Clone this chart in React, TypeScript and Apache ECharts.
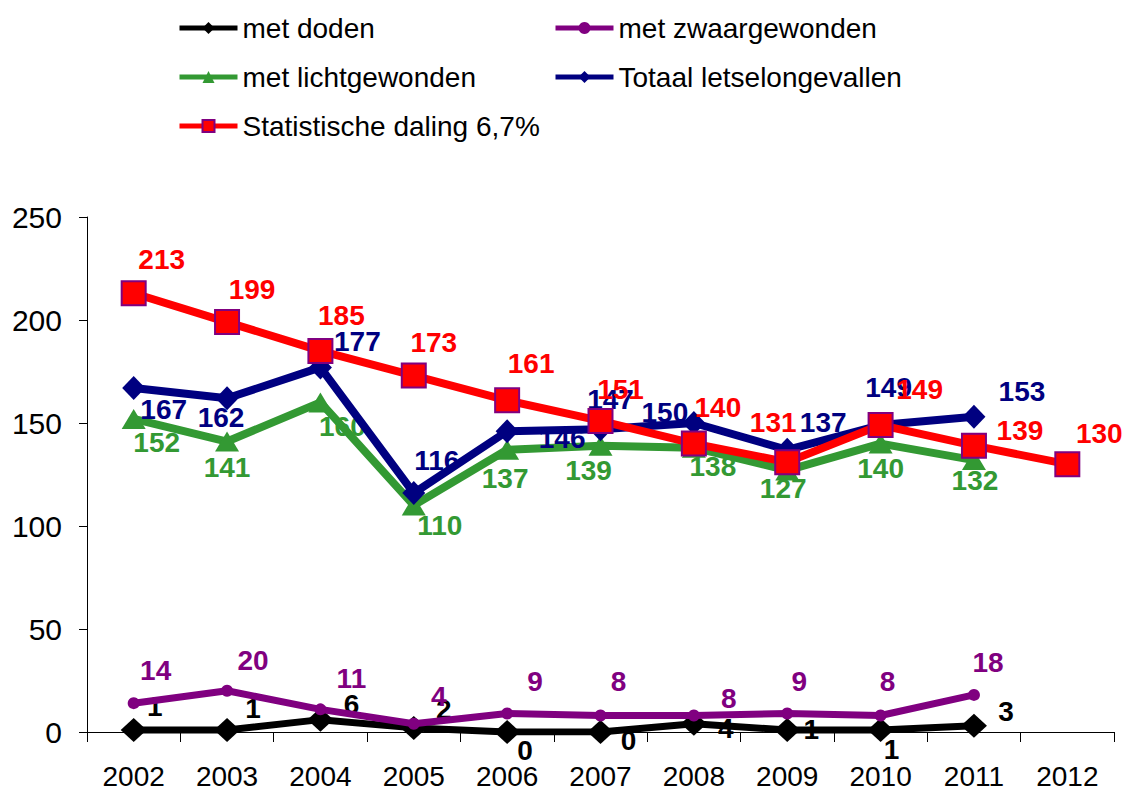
import React, { useEffect, useRef } from "react";
import * as echarts from "echarts";

const years = ["2002", "2003", "2004", "2005", "2006", "2007", "2008", "2009", "2010", "2011", "2012"];
const metDoden = [1, 1, 6, 2, 0, 0, 4, 1, 1, 3];
const metZwaargewonden = [14, 20, 11, 4, 9, 8, 8, 9, 8, 18];
const metLichtgewonden = [152, 141, 160, 110, 137, 139, 138, 127, 140, 132];
const totaal = [167, 162, 177, 116, 146, 147, 150, 137, 149, 153];
const statistischeDaling = [213, 199, 185, 173, 161, 151, 140, 131, 149, 139, 130];

// label placement offsets (px), separate from values
const dodenOffsets = [[21, -23], [26, -21], [31, -15], [30, -18], [18, 18], [28, 8], [32, 5], [24, 0], [11, 20], [32, -14]];
const zwaarOffsets = [[22, -33], [26, -30], [31, -31], [25, -27], [28, -32], [18, -34], [35, -17], [12, -32], [7, -34], [14, -32]];
const lichtOffsets = [[23, 24], [0, 26], [22, 24], [26, 20], [-2, 29], [-12, 25], [19, 19], [-4, 18], [0, 25], [1, 20]];
const totaalOffsets = [[30, 22], [-6, 19], [37, -26], [23, -33], [55, 7], [10, -30], [-29, -11], [36, -27], [8, -38], [48, -25]];
const statOffsets = [[28, -34], [25, -33], [21, -35], [20, -33], [24, -37], [20, -31], [24, -36], [-14, -40], [39, -36], [46, -15], [32, -31]];

const FONT = "'Liberation Sans', Arial, sans-serif";

function withOffsets(values: number[], offsets: number[][]) {
  return values.map((v, i) => ({ value: v, label: { offset: offsets[i] } }));
}

function makeSeries(
  name: string,
  values: number[],
  offsets: number[][],
  color: string,
  lineWidth: number,
  symbol: string,
  symbolSize: number | number[],
  z: number,
  itemStyle?: any
) {
  return {
    name,
    type: "line",
    data: withOffsets(values, offsets),
    z,
    symbol,
    symbolSize,
    showAllSymbol: true,
    lineStyle: { color, width: lineWidth },
    itemStyle: itemStyle || { color },
    label: {
      show: true,
      position: "inside",
      color,
      fontFamily: FONT,
      fontWeight: "bold",
      fontSize: 28,
    },
    emphasis: { disabled: true },
  };
}

export default function App() {
  const ref = useRef<HTMLDivElement>(null);
  useEffect(() => {
    if (!ref.current) return;
    const chart = echarts.init(ref.current, null, { renderer: "svg" });
    const legendText = { fontFamily: FONT, fontSize: 28, color: "#000", lineHeight: 28 };
    chart.setOption({
      animation: false,
      backgroundColor: "#fff",
      legend: [
        {
          orient: "vertical",
          left: 177,
          top: 14,
          padding: 0,
          itemWidth: 58,
          itemHeight: 15,
          itemGap: 21,
          textStyle: legendText,
          lineStyle: { width: 5 },
          data: ["met doden", "met lichtgewonden", "Statistische daling 6,7%"],
        },
        {
          orient: "vertical",
          left: 553,
          top: 14,
          padding: 0,
          itemWidth: 58,
          itemHeight: 15,
          itemGap: 21,
          textStyle: legendText,
          lineStyle: { width: 5 },
          data: ["met zwaargewonden", "Totaal letselongevallen"],
        },
      ],
      grid: { left: 87, right: 10, top: 217, bottom: 57, containLabel: false },
      xAxis: {
        type: "category",
        data: years,
        boundaryGap: true,
        axisLine: { show: true, lineStyle: { color: "#000", width: 1 } },
        axisTick: { show: true, length: 10, interval: 0, lineStyle: { color: "#000" } },
        axisLabel: { fontFamily: FONT, fontSize: 28, color: "#000", margin: 30, interval: 0 },
        splitLine: { show: false },
      },
      yAxis: {
        type: "value",
        min: 0,
        max: 250,
        interval: 50,
        axisLine: { show: true, lineStyle: { color: "#000", width: 1 } },
        axisTick: { show: true, length: 8, lineStyle: { color: "#000" } },
        axisLabel: { fontFamily: FONT, fontSize: 30, color: "#000", margin: 25 },
        splitLine: { show: false },
      },
      series: [
        makeSeries("met doden", metDoden, dodenOffsets, "#000000", 7, "diamond", [26, 24], 2),
        makeSeries("met zwaargewonden", metZwaargewonden, zwaarOffsets, "#800080", 7, "circle", 12, 3),
        makeSeries("met lichtgewonden", metLichtgewonden, lichtOffsets, "#339933", 8, "triangle", [24, 20], 4),
        makeSeries("Totaal letselongevallen", totaal, totaalOffsets, "#000080", 8, "diamond", [23, 24], 5),
        makeSeries("Statistische daling 6,7%", statistischeDaling, statOffsets, "#FF0000", 8, "rect", 24, 6, {
          color: "#FF0000",
          borderColor: "#800080",
          borderWidth: 2,
        }),
      ],
    });
    return () => chart.dispose();
  }, []);
  return <div ref={ref} style={{ width: 1124, height: 790, position: "absolute", left: 0, top: 0 }} />;
}
